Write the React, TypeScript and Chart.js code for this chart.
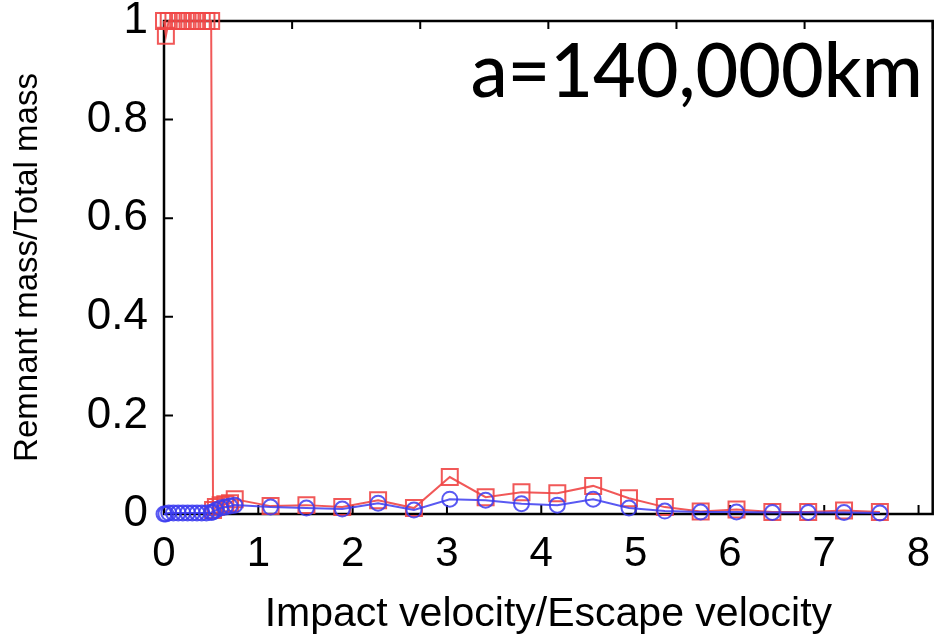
import React, { useEffect, useRef } from 'react';
import { Chart, registerables } from 'chart.js';

Chart.register(...registerables);

// Impact velocity / escape velocity
const velocity = [0, 0.02, 0.05, 0.1, 0.15, 0.2, 0.25, 0.3, 0.35, 0.4, 0.45, 0.5, 0.52, 0.55, 0.6, 0.65, 0.7, 0.75, 1.13, 1.51, 1.89, 2.27, 2.65, 3.03, 3.41, 3.79, 4.17, 4.55, 4.93, 5.31, 5.69, 6.07, 6.45, 6.83, 7.21, 7.59];
// largest remnant (red squares)
const remnantRed = [1, 0.97, 1, 1, 1, 1, 1, 1, 1, 1, 1, 1, 0.008, 0.014, 0.018, 0.02, 0.022, 0.03, 0.016, 0.018, 0.014, 0.028, 0.012, 0.075, 0.034, 0.044, 0.042, 0.057, 0.032, 0.014, 0.005, 0.009, 0.004, 0.004, 0.007, 0.004];
// second remnant (blue circles)
const remnantBlue = [0, 0, 0.002, 0.002, 0.002, 0.002, 0.002, 0.002, 0.002, 0.002, 0.002, 0.003, 0.004, 0.008, 0.012, 0.014, 0.016, 0.018, 0.014, 0.012, 0.01, 0.022, 0.008, 0.03, 0.028, 0.021, 0.018, 0.03, 0.012, 0.006, 0.004, 0.004, 0.003, 0.003, 0.003, 0.002];

const xTicks = [0, 1, 2, 3, 4, 5, 6, 7, 8];
const yTicks = [0, 0.2, 0.4, 0.6, 0.8, 1];
const topTicks = [0, 1, 2, 3, 4, 5, 6];

const xTitle = 'Impact velocity/Escape velocity';
const yTitle = 'Remnant mass/Total mass';
const annotation = 'a=140,000km';

const RED = 'rgba(240, 70, 70, 0.9)';
const BLUE = 'rgba(60, 60, 240, 0.85)';
const FONT = "'Liberation Sans', Arial, Helvetica, sans-serif";

export default function App() {
  const ref = useRef<HTMLCanvasElement | null>(null);

  useEffect(() => {
    if (!ref.current) return;

    const framePlugin = {
      id: 'frame',
      beforeDatasetsDraw(chart: any) {
        const { ctx, chartArea, scales } = chart;
        const { left, right, top, bottom } = chartArea;
        ctx.save();
        ctx.strokeStyle = '#000';
        ctx.lineWidth = 2;
        ctx.beginPath();
        for (const v of xTicks) {
          const px = scales.x.getPixelForValue(v);
          ctx.moveTo(px, bottom);
          ctx.lineTo(px, bottom - 9);
        }
        for (const v of yTicks) {
          const py = scales.y.getPixelForValue(v);
          ctx.moveTo(left, py);
          ctx.lineTo(left + 9, py);
        }
        for (const v of topTicks) {
          const px = scales.x2.getPixelForValue(v);
          ctx.moveTo(px, top);
          ctx.lineTo(px, top + 8);
        }
        ctx.stroke();
        ctx.lineWidth = 2.5;
        ctx.strokeRect(left, top, right - left, bottom - top);
        ctx.restore();
      },
      afterDraw(chart: any) {
        const { ctx, chartArea } = chart;
        ctx.save();
        ctx.fillStyle = '#000';
        ctx.font = "500 76px Lato, 'Noto Sans', sans-serif";
        ctx.textAlign = 'right';
        ctx.textBaseline = 'alphabetic';
        ctx.fillText(annotation, chartArea.right - 10, chartArea.top + 76, 452);
        ctx.restore();
      },
    };

    const chart = new Chart(ref.current, {
      type: 'line',
      data: {
        datasets: [
          {
            label: 'second',
            data: velocity.map((x, i) => ({ x, y: remnantBlue[i] })),
            borderColor: BLUE,
            borderWidth: 2,
            pointStyle: 'circle',
            pointRadius: 7.5,
            pointBorderWidth: 2,
            pointBorderColor: BLUE,
            pointBackgroundColor: 'rgba(0,0,0,0)',
            fill: false,
            tension: 0,
            clip: false,
          },
          {
            label: 'largest',
            data: velocity.map((x, i) => ({ x, y: remnantRed[i] })),
            borderColor: RED,
            borderWidth: 2,
            pointStyle: 'rect',
            pointRadius: 11.3,
            pointBorderWidth: 2,
            pointBorderColor: RED,
            pointBackgroundColor: 'rgba(0,0,0,0)',
            fill: false,
            tension: 0,
            clip: false,
          },
        ],
      },
      options: {
        animation: false,
        responsive: true,
        maintainAspectRatio: false,
        layout: { padding: { top: 21, right: 6, left: 0, bottom: 0 } },
        plugins: {
          legend: { display: false },
          tooltip: { enabled: false },
        },
        scales: {
          x: {
            type: 'linear',
            position: 'bottom',
            min: 0,
            max: 8.15,
            afterBuildTicks: (s: any) => {
              s.ticks = xTicks.map((v) => ({ value: v }));
            },
            afterFit: (s: any) => {
              s.height = 128;
              s.paddingLeft = 0;
              s.paddingRight = 0;
            },
            grid: { display: false, drawTicks: false },
            border: { display: false },
            ticks: {
              color: '#000',
              padding: 15,
              maxRotation: 0,
              font: { family: FONT, size: 42 },
              callback: (v: any) => String(v),
            },
            title: {
              display: true,
              text: xTitle,
              color: '#000',
              font: { family: FONT, size: 41 },
              padding: { top: 0, bottom: 3 },
            },
          },
          x2: {
            type: 'linear',
            position: 'top',
            min: 0,
            max: 6,
            display: false,
          },
          y: {
            type: 'linear',
            min: 0,
            max: 1,
            afterBuildTicks: (s: any) => {
              s.ticks = yTicks.map((v) => ({ value: v }));
            },
            afterFit: (s: any) => {
              s.width = 164;
              s.paddingTop = 0;
              s.paddingBottom = 0;
            },
            grid: { display: false, drawTicks: false },
            border: { display: false },
            ticks: {
              color: '#000',
              padding: 16,
              font: { family: FONT, size: 44 },
              callback: (v: any) => String(v),
            },
            title: {
              display: true,
              text: yTitle,
              color: '#000',
              font: { family: FONT, size: 33 },
              padding: { top: 8, bottom: 0 },
            },
          },
        },
      },
      plugins: [framePlugin],
    });

    return () => chart.destroy();
  }, []);

  return (
    <div style={{ position: 'fixed', left: 0, top: 0, width: 946, height: 642, background: '#fff' }}>
      <canvas ref={ref} />
    </div>
  );
}
